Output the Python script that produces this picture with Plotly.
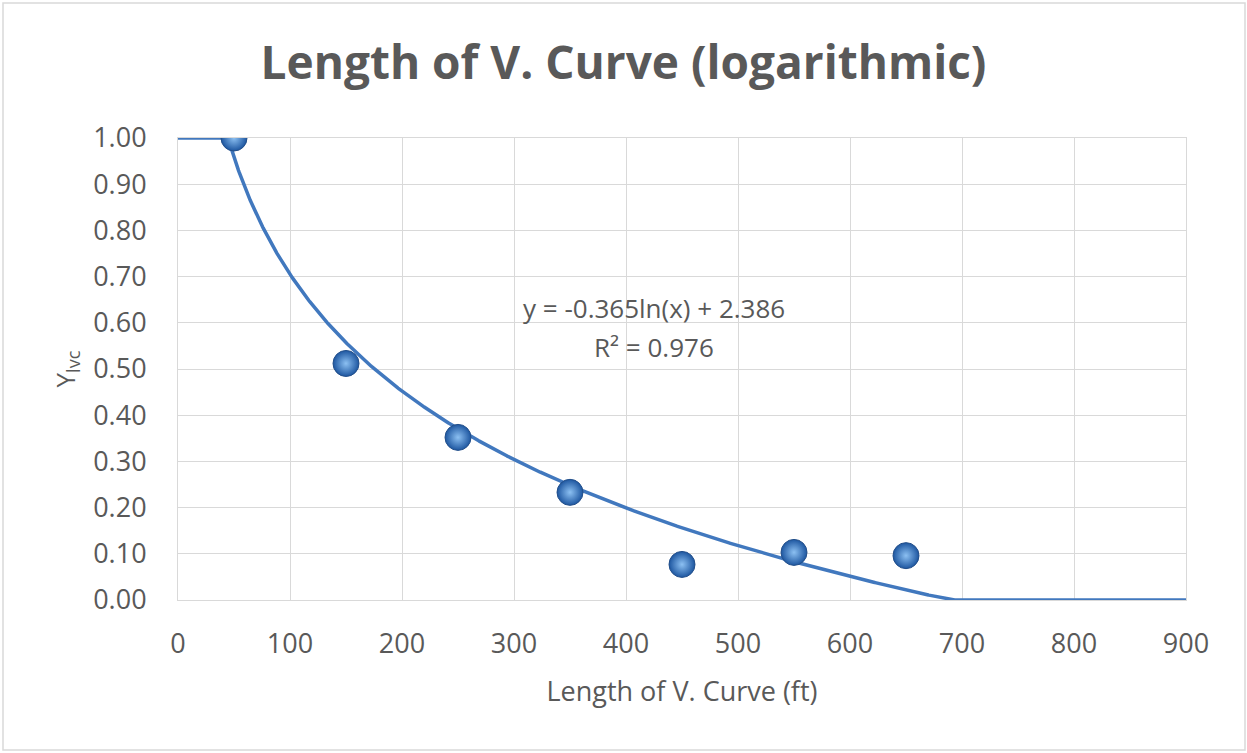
import numpy as np
import plotly.graph_objects as go

# ---- data ----
lengths_ft = [50, 150, 250, 350, 450, 550, 650]
y_lvc = [1.00, 0.512, 0.352, 0.233, 0.077, 0.103, 0.096]

# logarithmic trendline as printed on the chart
trend_a = -0.365
trend_b = 2.386
trend_r2 = 0.976

x_ticks = [0, 100, 200, 300, 400, 500, 600, 700, 800, 900]
y_ticks = [0.0, 0.1, 0.2, 0.3, 0.4, 0.5, 0.6, 0.7, 0.8, 0.9, 1.0]

# trendline evaluated on the axis range, clipped to the axis bounds like Excel
trend_x = np.linspace(0, 900, 1801)
with np.errstate(divide="ignore"):
    trend_y = np.clip(trend_a * np.log(trend_x) + trend_b, 0.0, 1.0)

GRAY = "#595959"
GRID = "#d9d9d9"
FONT = "Open Sans"

fig = go.Figure()

fig.add_trace(go.Scatter(
    x=trend_x, y=trend_y, mode="lines",
    line=dict(color="#4178be", width=3.5),
    hoverinfo="skip", showlegend=False,
))

fig.add_trace(go.Scatter(
    x=lengths_ft, y=y_lvc, mode="markers",
    marker=dict(
        size=26, color="#1d56a0",
        gradient=dict(type="radial", color="#8cc0f2"),
        line=dict(color="#234f8a", width=1),
    ),
    showlegend=False,
))

fig.add_annotation(
    x=425, y=0.632, xref="x", yref="y",
    text=f"y = {trend_a}ln(x) + {trend_b}", showarrow=False,
    font=dict(family=FONT, size=26, color=GRAY),
)
fig.add_annotation(
    x=425, y=0.548, xref="x", yref="y",
    text=f"R² = {trend_r2}", showarrow=False,
    font=dict(family=FONT, size=26, color=GRAY),
)

# outer chart border
fig.add_shape(
    type="rect", xref="paper", yref="paper",
    x0=(3 - 178) / 1008, x1=(1245 - 178) / 1008,
    y0=(600 - 750) / 462, y1=(600 - 3) / 462,
    line=dict(color=GRID, width=1.5), fillcolor="rgba(0,0,0,0)",
    layer="below",
)

fig.update_layout(
    width=1247, height=753,
    margin=dict(l=178, r=61, t=138, b=153),
    paper_bgcolor="white", plot_bgcolor="white",
    font=dict(family=FONT, color=GRAY),
    title=dict(
        text="<b>Length of V. Curve (logarithmic)</b>",
        x=0.5, xref="container", y=1 - 63 / 753, yanchor="middle", xanchor="center",
        font=dict(family=FONT, size=46, color=GRAY),
    ),
)

fig.update_xaxes(
    range=[0, 900], tickvals=x_ticks, ticktext=[str(v) for v in x_ticks],
    showgrid=True, gridcolor=GRID, gridwidth=1,
    zeroline=False, showline=True, mirror=True, linecolor=GRID, linewidth=1,
    ticks="", ticklabelstandoff=20,
    tickfont=dict(family=FONT, size=27, color=GRAY),
    title=dict(text="Length of V. Curve (ft)", standoff=21,
               font=dict(family=FONT, size=27, color=GRAY)),
    fixedrange=True,
)
fig.update_yaxes(
    range=[0, 1.0], tickvals=y_ticks, ticktext=[f"{v:.2f}" for v in y_ticks],
    showgrid=True, gridcolor=GRID, gridwidth=1,
    zeroline=False, showline=True, mirror=True, linecolor=GRID, linewidth=1,
    ticks="", ticklabelstandoff=25,
    tickfont=dict(family=FONT, size=27, color=GRAY),
    title=dict(text="Y<sub>lvc</sub>", standoff=10,
               font=dict(family=FONT, size=26, color=GRAY)),
    fixedrange=True,
)

fig.write_html("out.html", config={"displayModeBar": False},
               post_script="document.body.style.margin='0px';")
